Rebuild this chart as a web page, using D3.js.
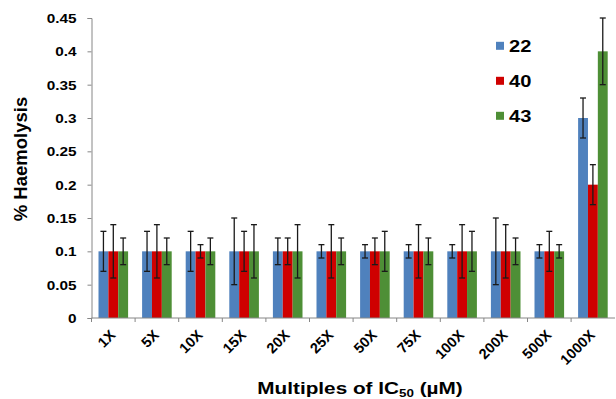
<!DOCTYPE html>
<html>
<head>
<meta charset="utf-8">
<script src="https://cdn.jsdelivr.net/npm/d3@7"></script>
<style>
  body { margin: 0; background: #fff; }
  svg { display: block; font-family: "Liberation Sans", Arial, sans-serif; font-weight: bold; }
</style>
</head>
<body>
<div id="chart"></div>
<script>
// categories and series
const categories = ['1X', '5X', '10X', '15X', '20X', '25X', '50X', '75X', '100X', '200X', '500X', '1000X'];
const seriesNames = ['22', '40', '43'];
const values22 = [0.1, 0.1, 0.1, 0.1, 0.1, 0.1, 0.1, 0.1, 0.1, 0.1, 0.1, 0.3];
const values40 = [0.1, 0.1, 0.1, 0.1, 0.1, 0.1, 0.1, 0.1, 0.1, 0.1, 0.1, 0.2];
const values43 = [0.1, 0.1, 0.1, 0.1, 0.1, 0.1, 0.1, 0.1, 0.1, 0.1, 0.1, 0.4];
const err22 = [0.03, 0.03, 0.03, 0.05, 0.02, 0.01, 0.01, 0.01, 0.01, 0.05, 0.01, 0.03];
const err40 = [0.04, 0.04, 0.01, 0.03, 0.02, 0.04, 0.02, 0.04, 0.04, 0.04, 0.03, 0.03];
const err43 = [0.02, 0.02, 0.02, 0.04, 0.04, 0.02, 0.03, 0.02, 0.03, 0.02, 0.01, 0.05];
const yTicks = [0, 0.05, 0.1, 0.15, 0.2, 0.25, 0.3, 0.35, 0.4, 0.45];

const colors = ['#4f81bd', '#cf0000', '#4e8f36'];
const width = 616, height = 399;
const plot = {left: 91.5, right: 615, top: 18, bottom: 318};

const svg = d3.select('#chart').append('svg')
  .attr('width', width)
  .attr('height', height);

const x0 = d3.scaleBand()
  .domain(categories)
  .range([plot.left, plot.left + 12 * 43.6]);

const x1 = d3.scaleBand()
  .domain(seriesNames)
  .range([7, x0.bandwidth() - 7]);

const y = d3.scaleLinear()
  .domain([0, 0.45])
  .range([plot.bottom, plot.top]);

const rows = [];
categories.forEach((c, i) => {
  [values22, values40, values43].forEach((vals, k) => {
    const errs = [err22, err40, err43][k];
    rows.push({cat: c, s: seriesNames[k], v: vals[i], e: errs[i], k: k});
  });
});

// y axis
const yAxis = svg.append('g')
  .attr('transform', 'translate(' + plot.left + ',0)')
  .call(d3.axisLeft(y).tickValues(yTicks).tickSize(4));
yAxis.select('.domain').attr('stroke', '#868686');
yAxis.selectAll('.tick line').attr('stroke', '#868686');
yAxis.selectAll('.tick text').remove();
yAxis.selectAll('.tick').append('text')
  .attr('transform', 'translate(-15,4.6) scale(1.18,1)')
  .attr('text-anchor', 'end')
  .attr('fill', '#000')
  .style('font-size', '13px')
  .text(d => +d.toFixed(2));

// bars
svg.append('g').selectAll('rect')
  .data(rows)
  .enter()
  .append('rect')
  .attr('x', d => x0(d.cat) + x1(d.s))
  .attr('y', d => y(d.v))
  .attr('width', x1.bandwidth())
  .attr('height', d => y(0) - y(d.v))
  .attr('fill', d => colors[d.k]);

// error bars
const eb = svg.append('g')
  .attr('stroke', '#1a1a1a')
  .attr('stroke-width', 1.3);
rows.forEach(d => {
  const cx = x0(d.cat) + x1(d.s) + x1.bandwidth() / 2;
  eb.append('line').attr('x1', cx).attr('x2', cx).attr('y1', y(d.v + d.e)).attr('y2', y(d.v - d.e));
  eb.append('line').attr('x1', cx - 3).attr('x2', cx + 3).attr('y1', y(d.v + d.e)).attr('y2', y(d.v + d.e));
  eb.append('line').attr('x1', cx - 3).attr('x2', cx + 3).attr('y1', y(d.v - d.e)).attr('y2', y(d.v - d.e));
});

// x axis
svg.append('line')
  .attr('x1', plot.left).attr('x2', plot.right)
  .attr('y1', plot.bottom).attr('y2', plot.bottom)
  .attr('stroke', '#868686');
svg.append('g').selectAll('line')
  .data(categories)
  .enter()
  .append('line')
  .attr('x1', d => x0(d)).attr('x2', d => x0(d))
  .attr('y1', plot.bottom).attr('y2', plot.bottom + 4)
  .attr('stroke', '#868686');

svg.append('g').selectAll('text')
  .data(categories)
  .enter()
  .append('text')
  .attr('transform', d => 'translate(' + (x0(d) + x0.bandwidth() / 2 + 3) + ',336) rotate(-45)')
  .attr('text-anchor', 'end')
  .style('font-size', '14.5px')
  .text(d => d);

// axis titles
svg.append('text')
  .attr('transform', 'translate(27,159) rotate(-90)')
  .attr('text-anchor', 'middle')
  .style('font-size', '18.5px')
  .text('% Haemolysis');

const xt = svg.append('text')
  .attr('transform', 'translate(360,394) scale(1.22,1)')
  .attr('text-anchor', 'middle')
  .style('font-size', '17px');
xt.append('tspan').text('Multiples of IC');
xt.append('tspan').attr('dy', 3).style('font-size', '11px').text('50');
xt.append('tspan').attr('dy', -3).text(' (µM)');

// legend
const legend = svg.append('g');
seriesNames.forEach((s, k) => {
  const cy = 45.8 + k * 35;
  legend.append('rect')
    .attr('x', 496).attr('y', cy - 4)
    .attr('width', 8).attr('height', 8)
    .attr('fill', colors[k]);
  legend.append('text')
    .attr('transform', 'translate(509,' + (cy + 6.2) + ') scale(1.22,1)')
    .style('font-size', '16.5px')
    .text(s);
});
</script>
</body>
</html>
